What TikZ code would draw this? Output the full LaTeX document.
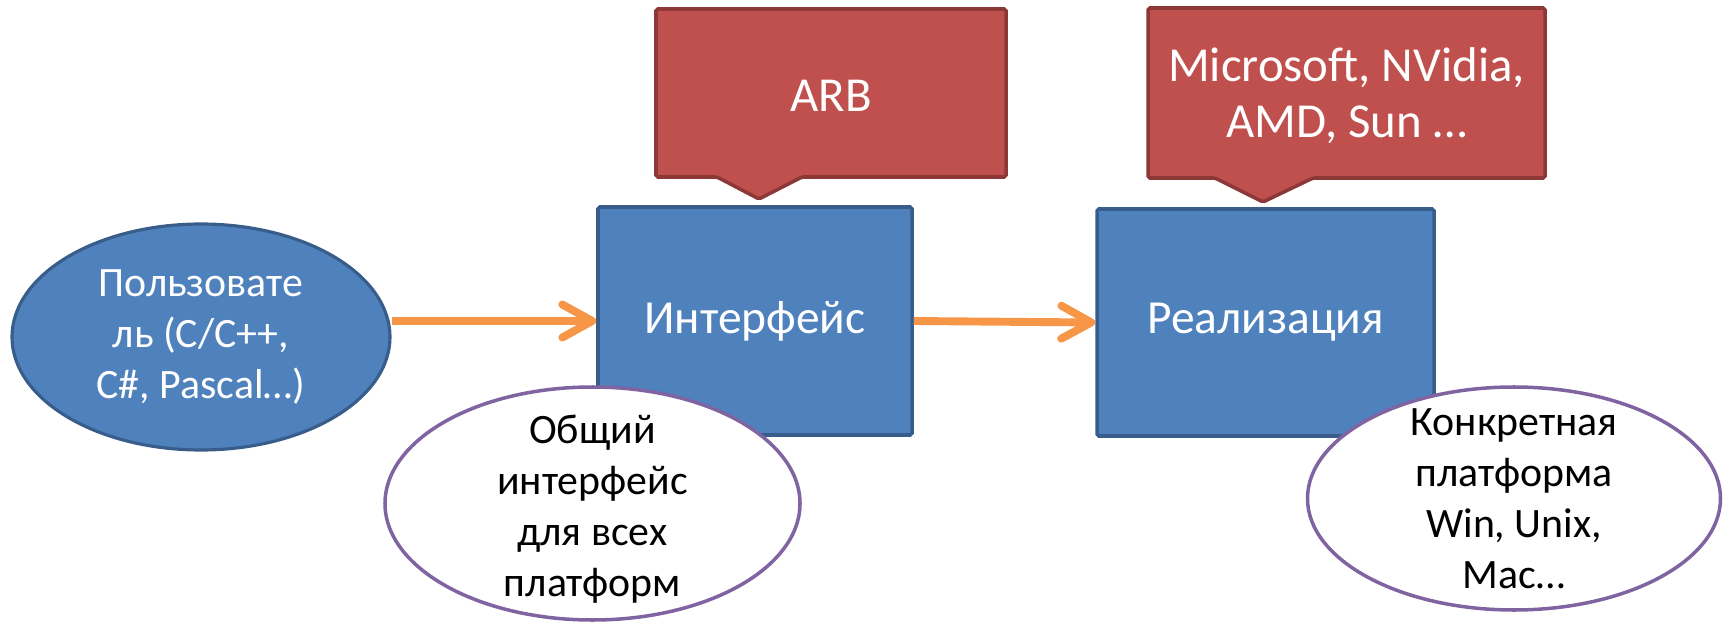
\documentclass[tikz,border=0pt]{standalone}
\usepackage{fontspec}
\setmainfont{Carlito}
\usetikzlibrary{arrows.meta,shapes.geometric}

\definecolor{boxblue}{HTML}{4F81BD}
\definecolor{boxblueline}{HTML}{385D8A}
\definecolor{calloutred}{HTML}{C0504D}
\definecolor{calloutredline}{HTML}{8C3836}
\definecolor{notepurple}{HTML}{8064A2}
\definecolor{floworange}{HTML}{F79646}

\tikzset{
	bluebox/.style={draw=boxblueline, fill=boxblue, line width=2pt,
		rounded corners=1pt, text=white, inner sep=0pt,
		font=\fontsize{27}{32}\selectfont},
	userellipse/.style={ellipse, draw=boxblueline, fill=boxblue,
		line width=1.8pt, text=white, align=center, inner sep=0pt,
		font=\fontsize{23.8}{29}\selectfont},
	noteellipse/.style={ellipse, draw=notepurple, fill=white,
		line width=2pt, inner sep=0pt},
	notetext/.style={text=black, align=center,
		font=\fontsize{23.8}{29}\selectfont},
	redcallout/.style={draw=calloutredline, fill=calloutred, line width=2pt,
		rounded corners=1pt},
	callouttext/.style={text=white, align=center,
		font=\fontsize{27.8}{32}\selectfont},
	flow/.style={draw=floworange, line width=4.5pt,
		-{Straight Barb[length=0.6cm, width=0.66cm, round]}},
}

\begin{document}
\begin{tikzpicture}
	\useasboundingbox (0, 0) rectangle (34.46, 12.46);

	% Anwender links
	\node[userellipse, minimum width=7.56cm, minimum height=4.52cm] (user)
	at (4.02, 5.72) {Пользовате\\ль (C/C++,\\C\#, Pascal…)};

	% Blaue Kästen
	\node[bluebox, minimum width=6.28cm, minimum height=4.56cm] (iface)
	at (15.10, 6.04) {Интерфейс};
	\node[bluebox, minimum width=6.74cm, minimum height=4.54cm] (real)
	at (25.31, 6.01) {Реализация};

	% Pfeile
	\draw[flow] (user.east |- iface.west) -- (iface.west);
	\draw[flow] (iface.east) -- (real.west);

	% Sprechblasen oben
	\filldraw[redcallout] (13.12, 12.28) -- (20.12, 12.28) -- (20.12, 8.92)
	-- (16.04, 8.92) -- (15.18, 8.48) -- (14.34, 8.92) -- (13.12, 8.92) -- cycle;
	\node[callouttext] (arb) at (16.62, 10.55) {ARB};
	\filldraw[redcallout] (22.96, 12.30) -- (30.90, 12.30) -- (30.90, 8.90)
	-- (26.26, 8.90) -- (25.26, 8.42) -- (24.30, 8.90) -- (22.96, 8.90) -- cycle;
	\node[callouttext] (vendors) at (26.93, 10.55)
	{Microsoft, NVidia,\\AMD, Sun …};

	% Ellipsen unten
	\node[noteellipse, minimum width=8.3cm, minimum height=4.66cm] (common)
	at (11.85, 2.39) {};
	\node[notetext] (commontext) at ([yshift=-0.12cm]common.center)
	{Общий\\интерфейс\\для всех\\платформ};
	\node[noteellipse, minimum width=8.26cm, minimum height=4.46cm] (platform)
	at (30.28, 2.49) {};
	\node[notetext] (platformtext) at (platform.center)
	{Конкретная\\платформа\\Win, Unix,\\Mac…};
\end{tikzpicture}
\end{document}
